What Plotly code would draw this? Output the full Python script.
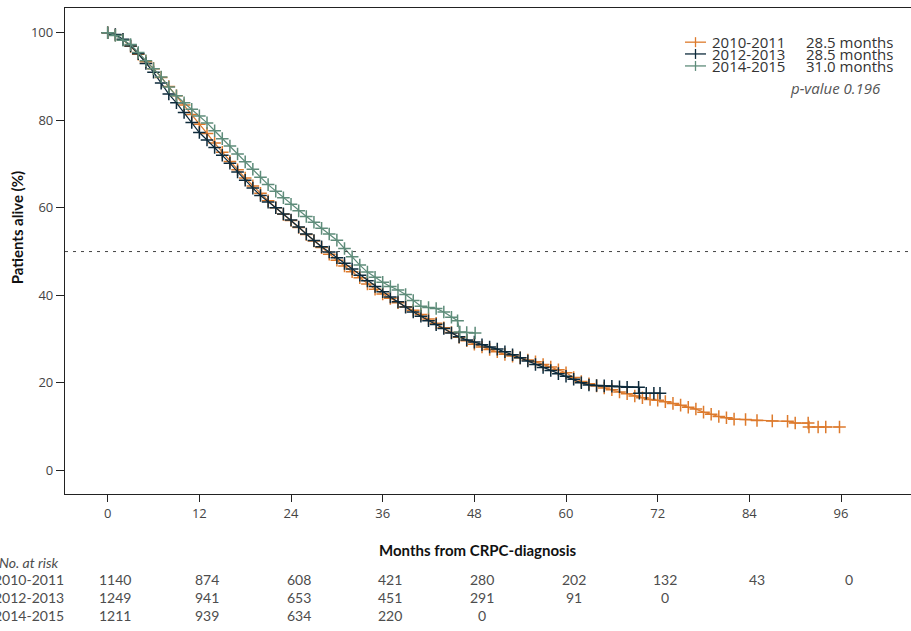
import plotly.graph_objects as go

# ---------------- data ----------------
groups = ["2010-2011", "2012-2013", "2014-2015"]
medians = ["28.5 months", "28.5 months", "31.0 months"]
p_value_text = "p-value 0.196"
colors = ["#DD7A2C", "#0D2A3B", "#5E8C7A"]

t_2010 = [0, 1, 2, 3, 4, 5, 6, 7, 8, 9, 10, 11, 12, 13, 14, 15, 16, 17, 18, 19, 20,
          21, 22, 23, 24, 25, 26, 27, 28, 29, 30, 31, 32, 33, 34, 35, 36, 37, 38, 39,
          40, 41, 42, 43, 44, 45, 46, 47, 48, 49, 50, 51, 52, 53, 54, 55, 56, 57, 58,
          59, 60, 61, 62, 63, 64, 65, 66, 67, 68, 69, 70, 71, 72, 73, 74, 75, 76, 77,
          78, 79, 80, 81, 82, 83.5, 85, 87, 89, 90, 91.7, 91.8, 93, 94, 95.8]
s_2010 = [100, 99.5, 98.4, 96.9, 95.1, 93.4, 91.8, 89.8, 87.7, 85.6, 83.5, 81.3, 79.1,
          77.0, 74.8, 72.7, 70.6, 68.7, 66.8, 65.0, 63.3, 61.6, 60.0, 58.5, 57.1, 55.5,
          53.9, 52.4, 50.9, 49.4, 48.0, 46.7, 45.4, 44.0, 42.6, 41.4, 40.3, 39.3, 38.3,
          37.4, 36.6, 35.6, 34.6, 33.6, 32.6, 31.5, 30.4, 29.6, 28.8, 28.2, 27.6, 27.1,
          26.5, 26.1, 25.7, 25.2, 24.8, 24.2, 23.6, 23.0, 22.3, 21.2, 20.3, 19.8, 19.3,
          18.8, 18.4, 17.9, 17.5, 17.0, 16.6, 16.2, 16.0, 15.7, 15.3, 14.9, 14.4, 14.0,
          13.3, 12.8, 12.3, 12.0, 11.7, 11.6, 11.4, 11.3, 11.2, 10.8, 10.8, 9.9, 9.9,
          9.9, 9.9]

t_2012 = [0, 1, 2, 3, 4, 5, 6, 7, 8, 9, 10, 11, 12, 13, 14, 15, 16, 17, 18, 19, 20,
          21, 22, 23, 24, 25, 26, 27, 28, 29, 30, 31, 32, 33, 34, 35, 36, 37, 38, 39,
          40, 41, 42, 43, 44, 45, 46, 47, 48, 49, 50, 51, 52, 53, 54, 55, 56, 57, 58,
          59, 60, 61, 62, 63, 64, 65, 66, 67, 68, 69.5, 69.6, 70.5, 71.5, 72.3]
s_2012 = [100, 99.6, 98.5, 97.0, 95.2, 93.0, 91.0, 88.5, 86.0, 84.0, 81.8, 79.5, 77.2,
          75.5, 73.8, 72.0, 70.2, 68.2, 66.3, 64.5, 62.8, 61.3, 60.0, 58.6, 57.2, 55.6,
          54.0, 52.5, 51.1, 49.9, 48.6, 47.3, 46.0, 44.6, 43.3, 42.0, 40.8, 39.6, 38.5,
          37.3, 36.2, 35.2, 34.2, 33.3, 32.4, 31.4, 30.5, 29.8, 29.3, 28.7, 28.2, 27.7,
          27.1, 26.4, 25.7, 25.0, 24.2, 23.5, 22.8, 22.1, 21.5, 20.8, 20.0, 19.5, 19.4,
          19.3, 19.2, 19.1, 19.0, 19.0, 17.6, 17.6, 17.6, 17.6]

t_2014 = [0, 1, 2, 3, 4, 5, 6, 7, 8, 9, 10, 11, 12, 13, 14, 15, 16, 17, 18, 19, 20,
          21, 22, 23, 24, 25, 26, 27, 28, 29, 30, 31, 32, 33, 34, 35, 36, 37, 38, 39,
          40, 41, 42, 43, 44, 45, 45.8, 46.1, 47, 48.1]
s_2014 = [100, 99.4, 98.3, 97.3, 95.5, 93.6, 91.8, 89.9, 87.6, 85.6, 84.0, 82.5, 81.0,
          79.4, 77.6, 75.8, 74.1, 72.3, 70.5, 68.8, 67.0, 65.3, 63.8, 62.3, 60.8, 59.3,
          58.0, 56.7, 55.3, 54.0, 52.6, 50.7, 48.8, 46.9, 45.3, 44.1, 43.0, 42.0, 41.2,
          40.2, 38.8, 37.5, 37.2, 37.0, 36.2, 35.0, 34.2, 31.6, 31.5, 31.4]

x_ticks = [0, 12, 24, 36, 48, 60, 72, 84, 96]
y_ticks = [0, 20, 40, 60, 80, 100]
risk_times = [0, 12, 24, 36, 48, 60, 72, 84, 96]
risk_2010 = [1140, 874, 608, 421, 280, 202, 132, 43, 0]
risk_2012 = [1249, 941, 653, 451, 291, 91, 0]
risk_2014 = [1211, 939, 634, 220, 0]

series_t = [t_2010, t_2012, t_2014]
series_s = [s_2010, s_2012, s_2014]
risk_rows = [risk_2010, risk_2012, risk_2014]

# ---------------- figure ----------------
W, H = 911, 631
ML, MR, MT, MB = 65, 0, 7.5, 137
PW, PH = W - ML - MR, H - MT - MB


def xp(px):
    return (px - ML) / PW


def yp(py):
    return (H - MB - py) / PH


fig = go.Figure()
for name, t, s, c in zip(groups, series_t, series_s, colors):
    fig.add_trace(go.Scatter(
        x=t, y=s, name=name, mode="lines+markers",
        line=dict(color=c, width=1.2),
        marker=dict(symbol="cross-thin", size=9, line=dict(color=c, width=1.5)),
        showlegend=False, hoverinfo="skip"))

tick_font = dict(family="Open Sans", size=13, color="#444444")
fig.update_layout(
    width=W, height=H, margin=dict(l=ML, r=MR, t=MT, b=MB, pad=0),
    paper_bgcolor="white", plot_bgcolor="white",
    xaxis=dict(range=[-5.59, 105.16], tickvals=x_ticks, ticks="outside", ticklen=7,
               tickwidth=1.2, tickcolor="#222222", showline=True, linecolor="#222222",
               linewidth=1.3, mirror=True, showgrid=False, zeroline=False,
               tickfont=tick_font),
    yaxis=dict(range=[-5.41, 105.66], tickvals=y_ticks, ticks="outside", ticklen=8,
               tickwidth=1.2, tickcolor="#222222", showline=True, linecolor="#222222",
               linewidth=1.3, mirror=False, showgrid=False, zeroline=False,
               tickfont=tick_font),
    font=dict(family="Open Sans", color="#333333"),
)

# median reference line
fig.add_shape(type="line", xref="paper", yref="y", x0=0, x1=1, y0=50, y1=50,
              line=dict(color="#444444", width=1, dash="3px,5px"))

# axis titles
fig.add_annotation(xref="paper", yref="paper", x=xp(17), y=yp(228),
                   xanchor="center", yanchor="middle",
                   text="<b>Patients alive (%)</b>", textangle=-90, showarrow=False,
                   font=dict(family="Lato", size=15, color="#111111"))
fig.add_annotation(xref="paper", yref="paper", x=xp(477), y=yp(550),
                   xanchor="center", yanchor="middle",
                   text="<b>Months from CRPC-diagnosis</b>", showarrow=False,
                   font=dict(family="Lato", size=15, color="#111111"))

# manual legend
leg_y = [41.7, 53.5, 65.5]
for name, med, c, yc in zip(groups, medians, colors, leg_y):
    fig.add_shape(type="line", xref="paper", yref="paper", x0=xp(685), x1=xp(706),
                  y0=yp(yc), y1=yp(yc), line=dict(color=c, width=1.3))
    fig.add_shape(type="line", xref="paper", yref="paper", x0=xp(695.5), x1=xp(695.5),
                  y0=yp(yc - 5), y1=yp(yc + 5), line=dict(color=c, width=1.3))
    fig.add_annotation(xref="paper", yref="paper", x=xp(710), y=yp(yc), text=name,
                       xanchor="left", yanchor="middle", showarrow=False,
                       font=dict(family="Open Sans", size=15, color="#333333"))
    fig.add_annotation(xref="paper", yref="paper", x=xp(804), y=yp(yc), text=med,
                       xanchor="left", yanchor="middle", showarrow=False,
                       font=dict(family="Open Sans", size=15, color="#333333"))
fig.add_annotation(xref="paper", yref="paper", x=xp(883), y=yp(88),
                   text="<i>" + p_value_text + "</i>", xanchor="right", yanchor="middle",
                   showarrow=False, font=dict(family="Open Sans", size=15, color="#555555"))

# number at risk table
table_font = dict(family="Lato", size=14, color="#4d4d4d")
fig.add_annotation(xref="paper", yref="paper", x=xp(-3), y=yp(563),
                   text="<i>No. at risk</i>", xanchor="left", yanchor="middle",
                   showarrow=False, font=table_font)
row_y = [580, 598, 616]
for name, row, ry in zip(groups, risk_rows, row_y):
    fig.add_annotation(xref="paper", yref="paper", x=xp(66), y=yp(ry), text=name,
                       xanchor="right", yanchor="middle", showarrow=False, font=table_font)
    for tt, n in zip(risk_times, row):
        fig.add_annotation(xref="x", yref="paper", x=tt + 1.0, y=yp(ry), text=str(n),
                           xanchor="center", yanchor="middle", showarrow=False,
                           font=table_font)

fig.write_html("out.html")
